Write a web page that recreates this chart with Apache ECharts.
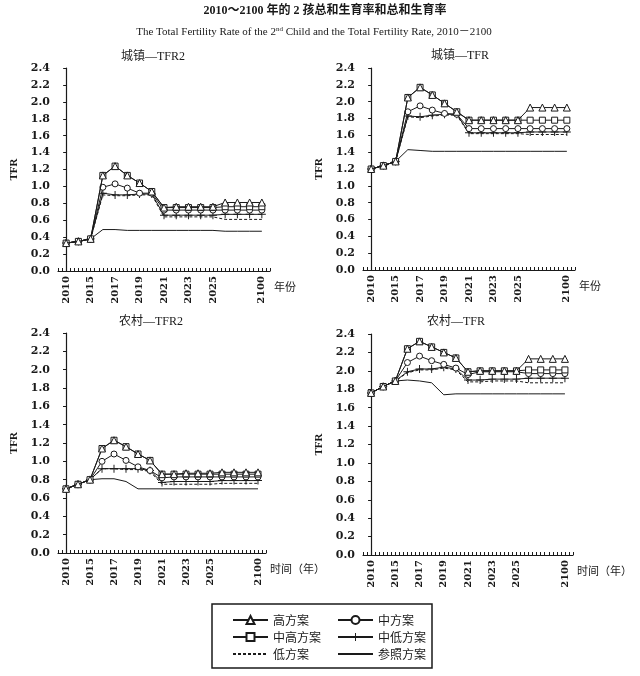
<!DOCTYPE html>
<html><head><meta charset="utf-8">
<script src="https://cdn.jsdelivr.net/npm/echarts@6/dist/echarts.min.js"></script>
<style>html,body{margin:0;padding:0;background:#fff}#c{width:640px;height:676px}</style>
</head><body><div id="c"></div>
<script>
// x tick labels per data point (blank = unlabeled point)
const tickLabels = ['2010','','2015','','2017','','2019','','2021','','2023','','2025','','','','2100'];
const schemes = ['高方案','中高方案','中方案','中低方案','低方案','参照方案'];
const panelTitles = ['城镇—TFR2','城镇—TFR','农村—TFR2','农村—TFR'];

// 城镇—TFR2
const urbanTFR2High    = [0.33,0.35,0.38,1.13,1.24,1.13,1.04,0.94,0.75,0.76,0.76,0.76,0.76,0.81,0.81,0.81,0.81];
const urbanTFR2MidHigh = [0.33,0.35,0.38,1.13,1.24,1.13,1.04,0.94,0.75,0.75,0.75,0.75,0.75,0.76,0.76,0.76,0.76];
const urbanTFR2Mid     = [0.33,0.35,0.38,0.99,1.03,0.98,0.92,0.92,0.72,0.72,0.72,0.72,0.72,0.72,0.72,0.72,0.72];
const urbanTFR2MidLow  = [0.33,0.35,0.38,0.92,0.90,0.90,0.91,0.91,0.66,0.66,0.66,0.66,0.66,0.67,0.67,0.67,0.67];
const urbanTFR2Low     = [0.33,0.35,0.38,0.90,0.89,0.89,0.90,0.90,0.64,0.64,0.64,0.64,0.64,0.61,0.61,0.61,0.61];
const urbanTFR2Ref     = [0.33,0.35,0.38,0.49,0.49,0.48,0.48,0.48,0.48,0.48,0.48,0.48,0.48,0.47,0.47,0.47,0.47];

// 城镇—TFR
const urbanTFRHigh    = [1.20,1.24,1.29,2.05,2.17,2.08,1.98,1.88,1.78,1.78,1.78,1.78,1.78,1.93,1.93,1.93,1.93];
const urbanTFRMidHigh = [1.20,1.24,1.29,2.05,2.17,2.08,1.98,1.88,1.78,1.78,1.78,1.78,1.78,1.78,1.78,1.78,1.78];
const urbanTFRMid     = [1.20,1.24,1.29,1.88,1.95,1.90,1.86,1.85,1.68,1.68,1.68,1.68,1.68,1.68,1.68,1.68,1.68];
const urbanTFRMidLow  = [1.20,1.24,1.29,1.83,1.82,1.84,1.85,1.85,1.63,1.63,1.63,1.63,1.63,1.64,1.64,1.64,1.64];
const urbanTFRLow     = [1.20,1.24,1.29,1.82,1.81,1.83,1.84,1.84,1.62,1.62,1.62,1.62,1.62,1.61,1.61,1.61,1.61];
const urbanTFRRef     = [1.20,1.24,1.29,1.43,1.42,1.41,1.41,1.41,1.41,1.41,1.41,1.41,1.41,1.41,1.41,1.41,1.41];

// 农村—TFR2
const ruralTFR2High    = [0.70,0.75,0.80,1.14,1.23,1.16,1.08,1.01,0.86,0.86,0.87,0.87,0.87,0.88,0.88,0.88,0.88];
const ruralTFR2MidHigh = [0.70,0.75,0.80,1.14,1.23,1.16,1.08,1.01,0.86,0.86,0.86,0.86,0.86,0.86,0.86,0.86,0.86];
const ruralTFR2Mid     = [0.70,0.75,0.80,1.00,1.08,1.01,0.94,0.90,0.82,0.83,0.83,0.83,0.83,0.83,0.83,0.83,0.83];
const ruralTFR2MidLow  = [0.70,0.75,0.80,0.92,0.92,0.92,0.92,0.90,0.77,0.78,0.78,0.78,0.78,0.79,0.79,0.79,0.79];
const ruralTFR2Low     = [0.70,0.75,0.80,0.92,0.92,0.91,0.91,0.89,0.75,0.75,0.75,0.75,0.75,0.76,0.76,0.76,0.76];
const ruralTFR2Ref     = [0.70,0.75,0.80,0.81,0.81,0.78,0.70,0.70,0.70,0.70,0.70,0.70,0.70,0.70,0.70,0.70,0.70];

// 农村—TFR
const ruralTFRHigh    = [1.76,1.83,1.89,2.24,2.32,2.26,2.20,2.14,1.99,2.00,2.00,2.00,2.00,2.13,2.13,2.13,2.13];
const ruralTFRMidHigh = [1.76,1.83,1.89,2.24,2.32,2.26,2.20,2.14,1.99,2.00,2.00,2.00,2.00,2.01,2.01,2.01,2.01];
const ruralTFRMid     = [1.76,1.83,1.89,2.09,2.16,2.11,2.07,2.03,1.96,1.99,1.99,1.99,1.99,1.97,1.97,1.97,1.97];
const ruralTFRMidLow  = [1.76,1.83,1.89,1.99,2.02,2.02,2.04,2.02,1.90,1.90,1.91,1.91,1.91,1.92,1.92,1.92,1.92];
const ruralTFRLow     = [1.76,1.83,1.89,1.98,2.01,2.01,2.03,2.01,1.88,1.88,1.89,1.89,1.89,1.87,1.87,1.87,1.87];
const ruralTFRRef     = [1.76,1.83,1.89,1.90,1.89,1.87,1.74,1.75,1.75,1.75,1.75,1.75,1.75,1.75,1.75,1.75,1.75];

const panels = [
  [urbanTFR2High, urbanTFR2MidHigh, urbanTFR2Mid, urbanTFR2MidLow, urbanTFR2Low, urbanTFR2Ref],
  [urbanTFRHigh, urbanTFRMidHigh, urbanTFRMid, urbanTFRMidLow, urbanTFRLow, urbanTFRRef],
  [ruralTFR2High, ruralTFR2MidHigh, ruralTFR2Mid, ruralTFR2MidLow, ruralTFR2Low, ruralTFR2Ref],
  [ruralTFRHigh, ruralTFRMidHigh, ruralTFRMid, ruralTFRMidLow, ruralTFRLow, ruralTFRRef]
];

const INK = '#1a1a1a';
const SERIF = '"Liberation Serif","Noto Sans CJK SC",serif';
const NUMF = '"DejaVu Serif","Liberation Serif",serif';
const CJK = '"Noto Sans CJK SC",sans-serif';
const PLUS = 'path://M4.4,0H5.6V4.4H10V5.6H5.6V10H4.4V5.6H0V4.4H4.4Z';
const symbols = ['triangle','rect','circle',PLUS,'none','none'];
const symbolSizes = [7,6,6,8,0,0];
const lineTypes = ['solid','solid','solid','solid',[3,2],'solid'];
const hollow = [true,true,true,false,false,false];

const grids = [
  {left:58, top:68, width:212, height:203},
  {left:363, top:68, width:212, height:202},
  {left:58, top:333, width:208, height:220},
  {left:363, top:334, width:210, height:221}
];
const xNames = ['年份','年份','时间（年）','时间（年）'];

const xAxes = grids.map((g,p)=>({
  type:'value', gridIndex:p, min:-2, max:50, interval:1,
  name:xNames[p], nameLocation:'end', nameGap:4,
  nameTextStyle:{color:INK, fontFamily:CJK, fontSize:11, verticalAlign:'top', padding:[10,0,0,0]},
  axisLine:{lineStyle:{color:INK, width:1.2}},
  axisTick:{show:true, inside:true, length:3, lineStyle:{color:INK}},
  splitLine:{show:false},
  axisLabel:{rotate:90, margin:5, color:INK, fontFamily:NUMF, fontWeight:'bold', fontSize:10,
    formatter:(v)=>{ const i=v/3; return (Number.isInteger(i) && tickLabels[i]) ? tickLabels[i] : ''; }}
}));
const yAxes = grids.map((g,p)=>({
  type:'value', gridIndex:p, min:0, max:2.4, interval:0.2,
  name:'TFR', nameLocation:'middle', nameGap:38, nameRotate:90,
  nameTextStyle:{color:INK, fontFamily:SERIF, fontSize:11, fontWeight:'bold'},
  axisLine:{show:true, lineStyle:{color:INK, width:1.2}},
  axisTick:{show:true, length:3, lineStyle:{color:INK}},
  splitLine:{show:false},
  axisLabel:{margin:8, color:INK, fontFamily:NUMF, fontWeight:'bold', fontSize:11,
    formatter:(v)=>v.toFixed(1)}
}));

const series = [];
panels.forEach((arrs,p)=>{
  arrs.forEach((arr,s)=>{
    series.push({
      type:'line', name:schemes[s], xAxisIndex:p, yAxisIndex:p,
      data:arr.map((v,i)=>[i*3, v]),
      symbol:symbols[s], symbolSize:symbolSizes[s],
      showSymbol: symbols[s] !== 'none',
      lineStyle:{color:INK, width:1, type:lineTypes[s]},
      itemStyle: hollow[s] ? {color:'#fff', borderColor:INK, borderWidth:1}
                           : {color:INK, borderWidth:0},
      emphasis:{disabled:true},
      animation:false, z: 10 - s
    });
  });
});

const titleCenters = [[153,57],[460,56],[151,322],[456,322]];
const graphics = [
  {type:'text', style:{text:'2010～2100 年的 2 孩总和生育率和总和生育率', x:325, y:11, textAlign:'center', textVerticalAlign:'middle',
    font:'bold 12px '+SERIF, fill:INK}},
  {type:'text', style:{text:'The Total Fertility Rate of the 2{sup|nd} Child and the Total Fertility Rate, 2010－2100', x:314, y:32,
    textAlign:'center', textVerticalAlign:'middle', font:'11px '+SERIF, fill:INK,
    rich:{sup:{fontSize:7, verticalAlign:'top', padding:[0,0,6,0], fontFamily:SERIF}}}},
  {type:'rect', shape:{x:212, y:604, width:220, height:64}, style:{fill:'none', stroke:INK, lineWidth:1.5}}
];
panelTitles.forEach((t,p)=>{
  graphics.push({type:'text', style:{text:t, x:titleCenters[p][0], y:titleCenters[p][1], textAlign:'center',
    textVerticalAlign:'middle', font:'12px '+SERIF, fill:INK}});
});

const legendBase = {
  orient:'vertical', itemWidth:35, itemHeight:10, itemGap:3,
  textStyle:{fontFamily:CJK, fontSize:12, color:INK, lineHeight:14},
  selectedMode:false
};
const noMark = {color:'rgba(0,0,0,0)', borderColor:'rgba(0,0,0,0)', borderWidth:0, opacity:0};

const chart = echarts.init(document.getElementById('c'), null, {renderer:'canvas'});
chart.setOption({
  backgroundColor:'#fff',
  animation:false,
  grid:grids.map(g=>Object.assign({containLabel:false, outerBoundsMode:'none'}, g)),
  xAxis:xAxes, yAxis:yAxes, series,
  legend:[
    Object.assign({left:227, top:608, data:['高方案','中高方案',{name:'低方案', itemStyle:noMark}]}, legendBase),
    Object.assign({left:332, top:608, data:['中方案','中低方案',{name:'参照方案', itemStyle:noMark}]}, legendBase)
  ],
  graphic:graphics
});
</script></body></html>
